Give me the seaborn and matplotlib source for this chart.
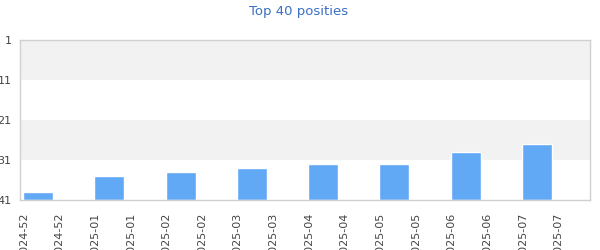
import matplotlib
matplotlib.use("Agg")
import matplotlib.pyplot as plt
import seaborn as sns
import pandas as pd

weeks = ["2024-52", "2025-01", "2025-02", "2025-03", "2025-04", "2025-05", "2025-06", "2025-07"]
positions = [39, 35, 34, 33, 32, 32, 29, 27]
tick_labels = [w for w in weeks for _ in range(2)]
y_ticks = [1, 11, 21, 31, 41]
title = "Top 40 posities"

BOTTOM = 41
df = pd.DataFrame({"idx": list(range(len(weeks))),
                   "hoogte": [BOTTOM - p for p in positions]})

sns.set_theme(style="white")
plt.rcParams['font.family'] = ['DejaVu Sans']

fig = plt.figure(figsize=(6, 2.5), dpi=100)
ax = fig.add_axes([20/600, 1 - 200/250, 570/600, 160/250])

# bands
for lo, hi in [(1, 11), (21, 31)]:
    ax.axhspan(BOTTOM - lo, BOTTOM - hi, color="#f2f2f2", zorder=0, lw=0)
for v in [11, 31]:
    ax.axhline(BOTTOM - v, color="white", lw=1, ls=(0, (4, 2)), zorder=1)

sns.barplot(data=df, x="idx", y="hoogte", native_scale=True, width=0.42,
            color="#62a9f5", saturation=1, ax=ax, zorder=2)

ax.set_xlim(-0.253, 7.745)
ax.set_ylim(0, BOTTOM - 1)
ax.set_yticks([BOTTOM - t for t in y_ticks])
ax.set_yticklabels([str(t) for t in y_ticks])
ax.set_xticks([-0.2 + 0.5 * i for i in range(len(tick_labels))])
ax.set_xticklabels(tick_labels, rotation=90, va="top", ha="center")
ax.tick_params(axis="x", length=0, pad=9, labelsize=8, labelcolor="#444444")
ax.tick_params(axis="y", length=0, pad=6, labelsize=8, labelcolor="#444444")
ax.set_xlabel("")
ax.set_ylabel("")
for s in ax.spines.values():
    s.set_color("#d0d0d0")
    s.set_linewidth(1)
    s.set_visible(True)

fig.text(0.497, 1 - 11/250, title, ha="center", va="center", color="#3a6fc4", fontsize=9.5)

fig.savefig("out.png", dpi=100)
